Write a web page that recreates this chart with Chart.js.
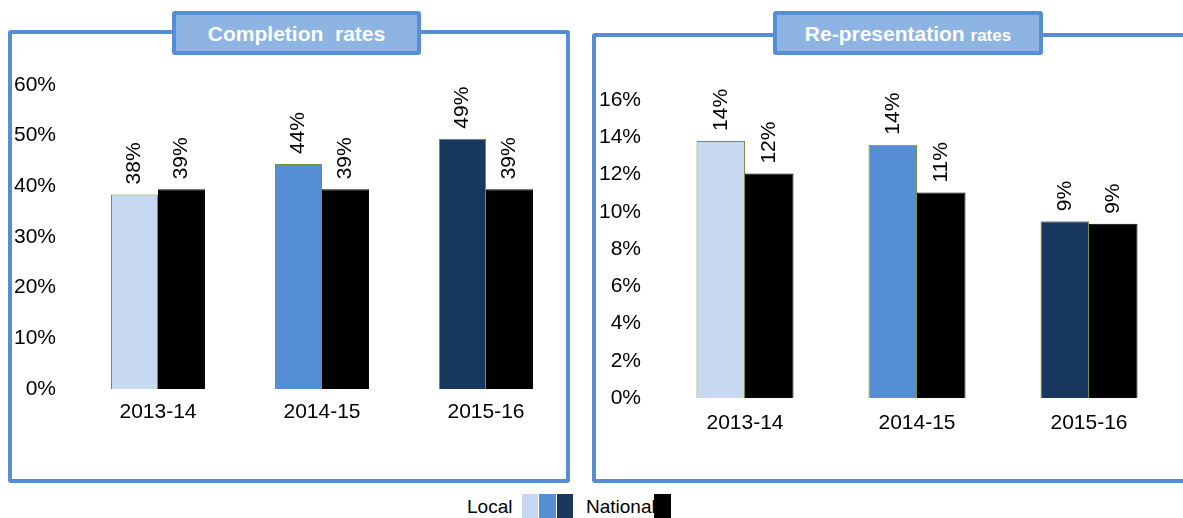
<!DOCTYPE html>
<html><head><meta charset="utf-8">
<script src="https://cdn.jsdelivr.net/npm/chart.js@4.4.1/dist/chart.umd.min.js"></script>
<style>
body{margin:0;width:1183px;height:518px;background:#fff;position:relative;overflow:hidden;font-family:"Liberation Sans",Arial,sans-serif}
.panel{position:absolute;border:4px solid #558ED5;border-radius:3px;box-sizing:border-box}
.title{position:absolute;background:#8DB4E2;border:4px solid #558ED5;border-radius:3px;box-sizing:border-box;color:#fff;font-weight:bold;text-align:center;white-space:nowrap}
canvas{position:absolute}
.lg{position:absolute;font-size:19px;color:#000}
.sw{position:absolute;top:494px;height:24px}
</style></head>
<body>
<div class="panel" style="left:8px;top:30px;width:562px;height:453px"></div>
<div class="panel" style="left:592px;top:33px;width:610px;height:450px"></div>
<canvas id="c1" width="580" height="480" style="left:0;top:0"></canvas>
<canvas id="c2" width="603" height="480" style="left:580px;top:0"></canvas>
<div class="title" style="left:172px;top:11px;width:249px;height:44px;line-height:37px;font-size:21px">Completion&nbsp; rates</div>
<div class="title" style="left:773px;top:11px;width:270px;height:44px;line-height:37px;font-size:21px">Re-presentation <span style="font-size:17px">rates</span></div>
<div class="lg" style="left:467px;top:496px">Local</div>
<div class="sw" style="left:522px;width:16px;background:#C6D9F1"></div>
<div class="sw" style="left:539px;width:17px;background:#558ED5"></div>
<div class="sw" style="left:557px;width:16px;background:#17375E"></div>
<div class="lg" style="left:586px;top:496px">National</div>
<div class="sw" style="left:654px;width:17px;background:#000"></div>
<script>
const categories = ['2013-14', '2014-15', '2015-16'];
const completionLocal = [38.4, 44.4, 49.4];
const completionNational = [39.4, 39.4, 39.4];
const represLocal = [13.8, 13.6, 9.49];
const represNational = [12.05, 11.03, 9.35];
const localColors = ['#C6D9F1', '#558ED5', '#17375E'];
const nationalColor = '#000000';

const FONT = '"Liberation Sans", Arial, sans-serif';

const rotLabels = {
  id: 'rotLabels',
  afterDatasetsDraw(chart) {
    const ctx = chart.ctx;
    ctx.save();
    ctx.font = '21px ' + FONT;
    ctx.fillStyle = '#000';
    chart.data.datasets.forEach((ds, i) => {
      chart.getDatasetMeta(i).data.forEach((bar, j) => {
        ctx.save();
        ctx.translate(bar.x, bar.y - 10);
        ctx.rotate(-Math.PI / 2);
        ctx.textAlign = 'left';
        ctx.textBaseline = 'middle';
        ctx.fillText(Math.round(ds.data[j]) + '%', 0, 0);
        ctx.restore();
      });
    });
    ctx.restore();
  }
};

function makeChart(id, local, national, max, step, cfg) {
  return new Chart(document.getElementById(id), {
    type: 'bar',
    data: {
      labels: categories,
      datasets: [
        { label: 'Local', data: local, backgroundColor: localColors, borderColor: '#77933C', borderWidth: 1,
          categoryPercentage: cfg.cat, barPercentage: 1 },
        { label: 'National', data: national, backgroundColor: nationalColor, borderColor: '#000', borderWidth: 1,
          categoryPercentage: cfg.cat, barPercentage: 1 }
      ]
    },
    options: {
      responsive: false,
      animation: false,
      layout: { padding: { top: cfg.top, right: cfg.right, left: 0, bottom: 0 } },
      plugins: { legend: { display: false }, tooltip: { enabled: false } },
      scales: {
        x: {
          grid: { display: false, drawTicks: false },
          border: { display: false },
          ticks: { color: '#000', font: { family: FONT, size: 21 }, padding: cfg.xpad, maxRotation: 0 },
          afterFit(s) { s.height = cfg.xh; }
        },
        y: {
          min: 0, max: max,
          grid: { display: false, drawTicks: false },
          border: { display: false },
          ticks: { stepSize: step, color: '#000', font: { family: FONT, size: 21 }, padding: cfg.ypad,
                   callback: v => v + '%' },
          afterFit(s) { s.width = cfg.yw; }
        }
      }
    },
    plugins: [rotLabels]
  });
}

makeChart('c1', completionLocal, completionNational, 60, 10,
  { top: 85, right: 12, xh: 91, yw: 76, xpad: 11, ypad: 20, cat: 0.573 });
makeChart('c2', represLocal, represNational, 16, 2,
  { top: 100, right: 8, xh: 82, yw: 79, xpad: 13, ypad: 18, cat: 0.564 });
</script>
</body></html>
